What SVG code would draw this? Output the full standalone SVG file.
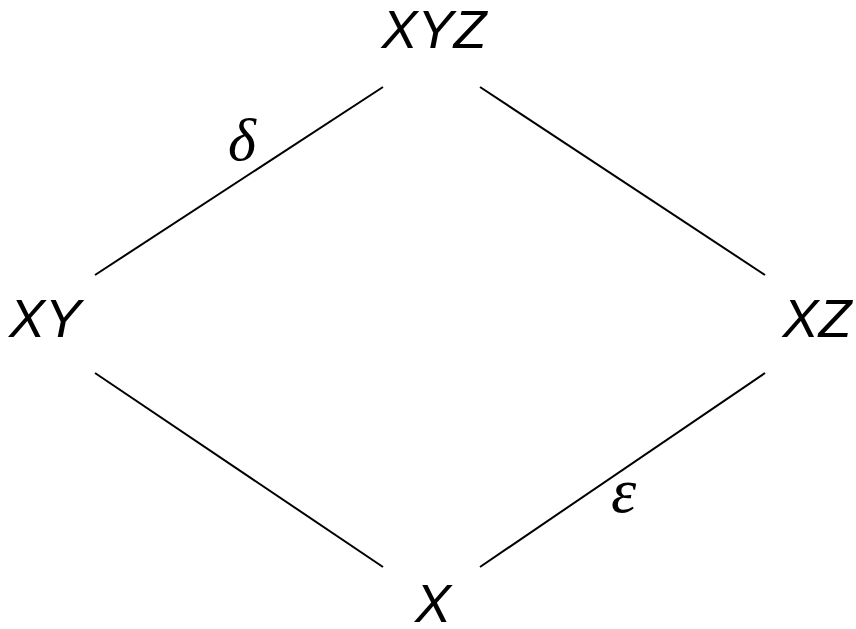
<svg xmlns="http://www.w3.org/2000/svg" width="856" height="629" viewBox="0 0 856 629">
<style>
.n{font-family:"Liberation Sans",Arial,sans-serif;font-style:italic;font-size:54px;fill:#000}
.g{font-family:"Liberation Serif","Times New Roman",serif;font-style:italic;font-size:60px;fill:#000}
.e line{stroke:#000;stroke-width:2}
</style>
<rect width="856" height="629" fill="#fff"/>
<g id="connectors" class="e">
<line x1="95" y1="275" x2="383" y2="87"/>
<line x1="480" y1="87" x2="765" y2="275"/>
<line x1="95" y1="373" x2="383" y2="567"/>
<line x1="765" y1="373" x2="480" y2="567"/>
<text class="g" x="228" y="160">δ</text>
<text class="g" x="611" y="512" style="font-size:64px">ε</text>
</g>
<g id="XYZ"><text class="n" x="434" y="48" text-anchor="middle">XYZ</text></g>
<g id="XY"><text class="n" x="45" y="337" text-anchor="middle">XY</text></g>
<g id="XZ"><text class="n" x="817" y="337" text-anchor="middle">XZ</text></g>
<g id="X"><text class="n" x="433" y="622" text-anchor="middle">X</text></g>
</svg>
